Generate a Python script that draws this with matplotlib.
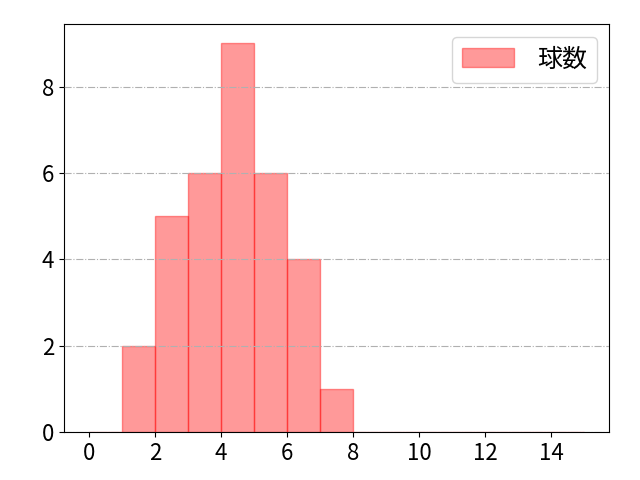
import numpy as np
import matplotlib.pyplot as plt

plt.rcParams['font.family'] = ['Noto Sans CJK JP', 'DejaVu Sans']

# histogram bins and counts
bin_edges = list(range(0, 16))
counts = [0, 2, 5, 6, 9, 6, 4, 1, 0, 0, 0, 0, 0, 0, 0]
label = "球数"

fig, ax = plt.subplots(figsize=(6.4, 4.8), dpi=100)
ax.hist(bin_edges[:-1], bins=bin_edges, weights=counts,
        color='red', edgecolor='red', alpha=0.4, linewidth=1.0,
        label=label, zorder=1)
ax.grid(axis='y', linestyle='-.', color='#b0b0b0', linewidth=0.8, zorder=2)
ax.set_axisbelow(False)
ax.set_xticks(np.arange(0, 16, 2))
ax.tick_params(labelsize=16)
ax.legend(fontsize=18, loc='upper right', handlelength=2.1, handletextpad=0.9,
          handleheight=0.8)
fig.subplots_adjust(left=0.1, right=0.952, top=0.95, bottom=0.1)
plt.savefig("out.png")
